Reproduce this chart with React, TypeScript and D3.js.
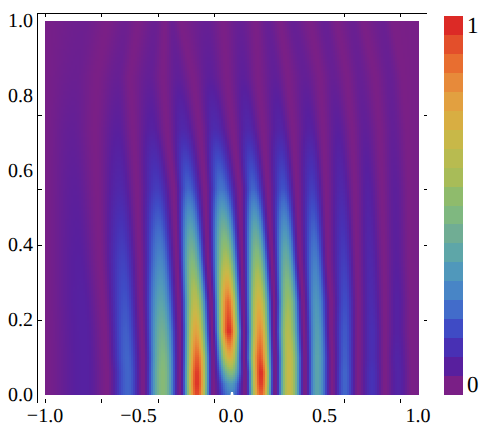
import React, { useMemo } from "react";
import * as d3 from "d3";

// Heights at which the fringe extrema were read
const rowY = [0, 0.03, 0.06, 0.1, 0.17, 0.25, 0.36, 0.55, 0.71, 0.85, 1];

// x position of each fringe extremum (alternating min / max) per row
const trackX: number[][] = [
  [-1, -1, -1, -1, -1, -1, -1, -1, -1, -1, -1],
  [-.786, -.786, -.786, -.786, -.791, -.802, -.818, -.84, -.856, -.84, -.797],
  [-.668, -.668, -.668, -.674, -.679, -.69, -.706, -.722, -.733, -.722, -.668],
  [-.556, -.556, -.556, -.561, -.567, -.572, -.583, -.599, -.61, -.61, -.572],
  [-.476, -.476, -.476, -.476, -.481, -.487, -.492, -.508, -.529, -.545, -.503],
  [-.369, -.369, -.369, -.369, -.374, -.38, -.385, -.401, -.428, -.439, -.412],
  [-.278, -.278, -.278, -.278, -.278, -.283, -.294, -.31, -.348, -.369, -.358],
  [-.187, -.187, -.187, -.187, -.193, -.198, -.214, -.235, -.262, -.289, -.321],
  [-.102, -.102, -.102, -.102, -.107, -.112, -.128, -.144, -.171, -.209, -.278],
  [-.005, -.005, -.005, -.011, -.016, -.021, -.032, -.059, -.091, -.118, -.134],
  [.07, .07, .07, .064, .064, .059, .053, .043, .005, -.027, -.048],
  [.155, .155, .155, .15, .15, .144, .134, .112, .086, .059, .043],
  [.23, .23, .23, .23, .225, .225, .214, .193, .166, .139, .128],
  [.305, .305, .305, .305, .299, .299, .289, .273, .257, .23, .193],
  [.39, .39, .39, .39, .385, .38, .364, .348, .326, .299, .257],
  [.455, .455, .455, .455, .455, .449, .444, .428, .417, .39, .326],
  [.535, .535, .535, .535, .529, .529, .513, .503, .487, .471, .417],
  [.604, .604, .604, .604, .604, .604, .599, .583, .567, .54, .497],
  [.674, .674, .674, .674, .674, .674, .668, .658, .642, .615, .561],
  [.749, .749, .749, .749, .749, .743, .738, .727, .711, .684, .647],
  [.818, .818, .818, .818, .818, .818, .813, .802, .791, .765, .701],
  [.888, .888, .888, .882, .882, .882, .877, .872, .861, .845, .807],
  [.963, .963, .963, .963, .957, .957, .952, .947, .936, .914, .861],
  [1, 1, 1, 1, 1, 1, 1, 1, 1, 1, 1],
];

const low = [0, 0, 0, 0, 0, 0, 0, 0, 0, 0, 0];

// Intensity of each extremum per row
const trackV: number[][] = [
  [.005, .005, .005, .005, .005, .005, .005, .005, .005, .005, .005],
  [.06, .06, .06, .06, .06, .06, .055, .045, .035, .025, .02],
  low,
  [.2, .2, .2, .2, .19, .17, .14, .08, .05, .03, .02],
  low,
  [.5, .5, .5, .48, .43, .36, .27, .13, .06, .035, .025],
  low,
  [.96, .99, .98, .92, .78, .64, .48, .2, .08, .04, .025],
  low,
  [.25, .32, .5, .74, 1, .9, .6, .23, .09, .045, .03],
  low,
  [.92, .98, 1, .94, .84, .72, .52, .2, .08, .045, .03],
  low,
  [.68, .68, .68, .67, .62, .55, .41, .17, .07, .04, .03],
  low,
  [.36, .36, .36, .36, .34, .31, .25, .13, .06, .035, .03],
  low,
  [.2, .2, .2, .19, .18, .16, .13, .08, .05, .03, .03],
  low,
  [.11, .11, .11, .1, .1, .09, .08, .06, .04, .03, .025],
  low,
  [.07, .07, .07, .07, .06, .06, .05, .045, .035, .03, .025],
  low,
  [.005, .005, .005, .005, .005, .005, .005, .005, .005, .005, .005],
];

const legendColors = [
  "#7a1f86", "#581f9e", "#4830b4", "#3f4bc5", "#426cca", "#4885c6", "#5098bb",
  "#5ea6a8", "#70ad94", "#7fb880", "#8fbb6c", "#a8bc58", "#b8bb50", "#c8b848",
  "#d8ae42", "#e2a040", "#e78a3a", "#e86e30", "#e34f2b", "#dc2a26",
];

const xLabels = ["\u22121.0", "\u22120.5", "0.0", "0.5", "1.0"];
const xLabelVals = [-1, -0.5, 0, 0.5, 1];
const yLabelVals = [0, 0.2, 0.4, 0.6, 0.8, 1];
// The frame ticks sit off the label positions in the reference
const xTickVals = [-1, -0.7, -0.4, -0.1, 0.6, 0.9];
const yTickVals = [0.2, 0.4, 0.55, 0.75];

const NX = 187;
const NY = 187;

const SERIF = "'Liberation Serif', 'Times New Roman', serif";

export default function App() {
  const x = d3.scaleLinear().domain([-1, 1]).range([45, 419]);
  const y = d3.scaleLinear().domain([0, 1]).range([395, 21]);
  const color = d3
    .scaleLinear<string>()
    .domain(legendColors.map((_, i) => i / (legendColors.length - 1)))
    .range(legendColors)
    .interpolate(d3.interpolateRgb);
  const legendY = d3.scaleLinear().domain([0, legendColors.length]).range([394, 16]);

  const cells = useMemo(() => {
    const out: { i: number; j: number; c: string }[] = [];
    const bis = d3.bisector((d: number) => d).right;
    for (let j = 0; j < NY; j++) {
      const yv = (j + 0.5) / NY;
      const r = Math.min(rowY.length - 2, Math.max(0, bis(rowY, yv) - 1));
      const t = (yv - rowY[r]) / (rowY[r + 1] - rowY[r]);
      const xs = trackX.map((a) => a[r] + (a[r + 1] - a[r]) * t);
      const vs = trackV.map((a) => a[r] + (a[r + 1] - a[r]) * t);
      for (let i = 0; i < NX; i++) {
        const xv = -1 + (2 * (i + 0.5)) / NX;
        const k = Math.min(xs.length - 2, Math.max(0, bis(xs, xv) - 1));
        const u = Math.max(0, Math.min(1, (xv - xs[k]) / (xs[k + 1] - xs[k] || 1)));
        const a = vs[k];
        const b = vs[k + 1];
        const lo = Math.min(a, b);
        const hi = Math.max(a, b);
        const fromLow = a <= b ? u : 1 - u;
        const e = Math.pow((1 - Math.cos(Math.PI * fromLow)) / 2, 0.85);
        out.push({ i, j, c: color(lo + (hi - lo) * e) as string });
      }
    }
    return out;
  }, []);

  const txt = {
    fontFamily: SERIF,
    fontSize: 20,
    fill: "#000",
    textRendering: "geometricPrecision",
  } as const;

  return (
    <svg
      width={494}
      height={437}
      style={{ position: "absolute", left: 0, top: 0, background: "#fff" }}
    >
      <g shapeRendering="crispEdges">
        {cells.map((d) => (
          <rect
            key={d.i + "-" + d.j}
            x={x(-1) + d.i * 2}
            y={y(0) - (d.j + 1) * 2}
            width={2}
            height={2}
            fill={d.c}
          />
        ))}
      </g>
      <path
        d={`M${x(0) - 1.5},${y(0)}L${x(0) - 1},${y(0) - 3}L${x(0) + 1},${y(0) - 3}L${x(0) + 1.5},${y(0)}Z`}
        fill="#fff"
      />
      <g stroke="#000" strokeWidth={1} shapeRendering="crispEdges">
        <line x1={37.5} x2={37.5} y1={13} y2={403} />
        <line x1={37} x2={427} y1={13.5} y2={13.5} />
        {xTickVals.map((v) => {
          const p = Math.round(x(v) + (v < 0 ? 0.3 : -0.1)) + 0.5;
          return (
            <g key={v}>
              <line x1={p} x2={p} y1={14} y2={17} />
              <line x1={p} x2={p} y1={399} y2={403} />
            </g>
          );
        })}
        {yTickVals.map((v) => {
          const p = Math.round(y(v)) + 0.5;
          return (
            <g key={v}>
              <line x1={38} x2={42} y1={p} y2={p} />
              <line x1={424} x2={427} y1={p} y2={p} />
            </g>
          );
        })}
      </g>
      {xLabelVals.map((v, i) => (
        <text key={v} {...txt} x={x(v) - (v === 0 ? 1 : v > 0 ? 1 : 0)} y={422} textAnchor="middle">
          {xLabels[i]}
        </text>
      ))}
      {yLabelVals.map((v) => (
        <text key={v} {...txt} x={33} y={y(v) + 6} textAnchor="end">
          {v.toFixed(1)}
        </text>
      ))}
      <g shapeRendering="crispEdges">
        {legendColors.map((c, i) => (
          <rect
            key={c}
            x={444}
            y={legendY(i + 1)}
            width={19}
            height={legendY(i) - legendY(i + 1) + 0.5}
            fill={c}
          />
        ))}
      </g>
      <text fontFamily={SERIF} fontSize={23} textRendering="geometricPrecision" x={467} y={33}>1</text>
      <text fontFamily={SERIF} fontSize={23} textRendering="geometricPrecision" x={467} y={392}>0</text>
    </svg>
  );
}
